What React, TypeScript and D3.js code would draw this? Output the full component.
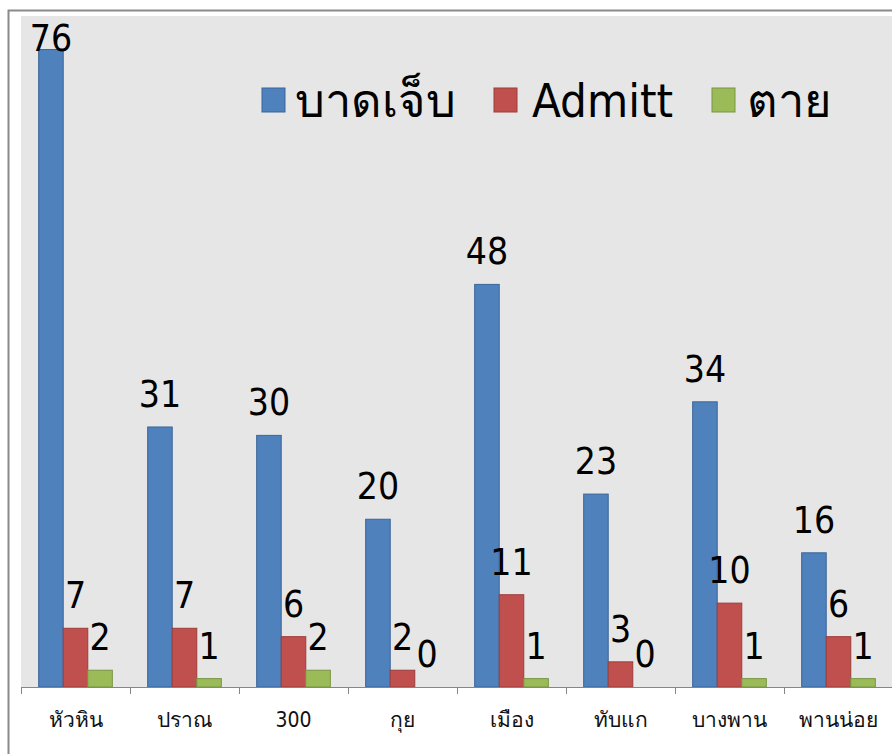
import React, { useEffect, useRef } from 'react';
import * as d3 from 'd3';

// data
const categories = ['หัวหิน', 'ปราณ', '300', 'กุย', 'เมือง', 'ทับแก', 'บางพาน', 'พานน่อย'];
const seriesNames = ['บาดเจ็บ', 'Admitt', 'ตาย'];
const injured = [76, 31, 30, 20, 48, 23, 34, 16];
const admitted = [7, 7, 6, 2, 11, 3, 10, 6];
const dead = [2, 1, 2, 0, 1, 0, 1, 1];

const fills = ['#4F81BD', '#C0504D', '#9BBB59'];
const strokes = ['#3B6599', '#9C3D3A', '#789543'];

const W = 892;
const H = 754;
const FONT = "'DejaVu Sans Condensed', 'DejaVu Sans', Tahoma, sans-serif";

export default function App() {
  const svgRef = useRef<SVGSVGElement | null>(null);

  useEffect(() => {
    if (!svgRef.current) return;
    const svg = d3.select(svgRef.current);
    svg.selectAll('*').remove();

    const plot = { left: 21, top: 16, right: 893, bottom: 687 };
    const values = [injured, admitted, dead];

    // chart area frame
    svg.append('rect').attr('width', W).attr('height', H).attr('fill', '#fff');
    svg.append('rect')
      .attr('x', 8.5).attr('y', 10.5)
      .attr('width', W + 20).attr('height', H + 20)
      .attr('fill', '#fff')
      .attr('stroke', '#8a8a8a')
      .attr('stroke-width', 2);

    // plot area
    svg.append('rect')
      .attr('x', plot.left).attr('y', plot.top)
      .attr('width', plot.right - plot.left).attr('height', plot.bottom - plot.top)
      .attr('fill', '#E6E6E6');

    const x0 = d3.scaleBand<string>()
      .domain(categories)
      .range([plot.left, plot.right])
      .padding(0);

    const x1 = d3.scaleBand<string>()
      .domain(seriesNames)
      .range([0, x0.bandwidth()])
      .paddingInner(0)
      .paddingOuter(0.72);

    const y = d3.scaleLinear().domain([0, 80]).range([plot.bottom, plot.top]);

    const bars = categories.flatMap((c, i) =>
      seriesNames.map((s, k) => ({ cat: c, series: s, k, value: values[k][i] }))
    );

    const g = svg.append('g');
    g.selectAll('rect.bar')
      .data(bars)
      .join('rect')
      .attr('class', 'bar')
      .attr('x', (d) => (x0(d.cat) ?? 0) + (x1(d.series) ?? 0))
      .attr('y', (d) => y(d.value))
      .attr('width', x1.bandwidth())
      .attr('height', (d) => y(0) - y(d.value))
      .attr('fill', (d) => fills[d.k])
      .attr('stroke', (d) => (d.value > 0 ? strokes[d.k] : 'none'))
      .attr('stroke-width', 1);

    // value labels (kept inside the plot area like Excel does)
    g.selectAll('text.val')
      .data(bars)
      .join('text')
      .attr('class', 'val')
      .attr('x', (d) => (x0(d.cat) ?? 0) + (x1(d.series) ?? 0) + x1.bandwidth() / 2)
      .attr('y', (d) => Math.max(y(d.value) - 20, plot.top + 35))
      .attr('text-anchor', 'middle')
      .attr('font-family', FONT)
      .attr('font-size', 37)
      .attr('fill', '#000')
      .text((d) => d.value);

    // x axis
    const axis = svg.append('g');
    axis.append('line')
      .attr('x1', plot.left).attr('x2', plot.right)
      .attr('y1', plot.bottom + 0.5).attr('y2', plot.bottom + 0.5)
      .attr('stroke', '#868686');
    const ticks = categories.map((c) => x0(c) ?? 0).concat([plot.right]);
    axis.selectAll('line.tick')
      .data(ticks)
      .join('line')
      .attr('class', 'tick')
      .attr('x1', (d) => Math.round(d) + 0.5).attr('x2', (d) => Math.round(d) + 0.5)
      .attr('y1', plot.bottom).attr('y2', plot.bottom + 7)
      .attr('stroke', '#868686');
    axis.selectAll('text.cat')
      .data(categories)
      .join('text')
      .attr('class', 'cat')
      .attr('x', (d) => (x0(d) ?? 0) + x0.bandwidth() / 2)
      .attr('y', 727)
      .attr('text-anchor', 'middle')
      .attr('font-family', FONT)
      .attr('font-size', 21)
      .attr('fill', '#111')
      .text((d) => d);

    // legend
    const legendX = [262, 494, 712];
    const textGap = [33, 38, 35];
    const lg = svg.append('g');
    seriesNames.forEach((s, k) => {
      lg.append('rect')
        .attr('x', legendX[k]).attr('y', 88)
        .attr('width', 23).attr('height', 24)
        .attr('fill', fills[k])
        .attr('stroke', strokes[k]);
      lg.append('text')
        .attr('x', legendX[k] + textGap[k]).attr('y', 117)
        .attr('font-family', FONT)
        .attr('font-size', 47)
        .attr('fill', '#000')
        .text(s);
    });
  }, []);

  return (
    <svg
      ref={svgRef}
      width={W}
      height={H}
      style={{ position: 'absolute', left: 0, top: 0, display: 'block' }}
    />
  );
}
